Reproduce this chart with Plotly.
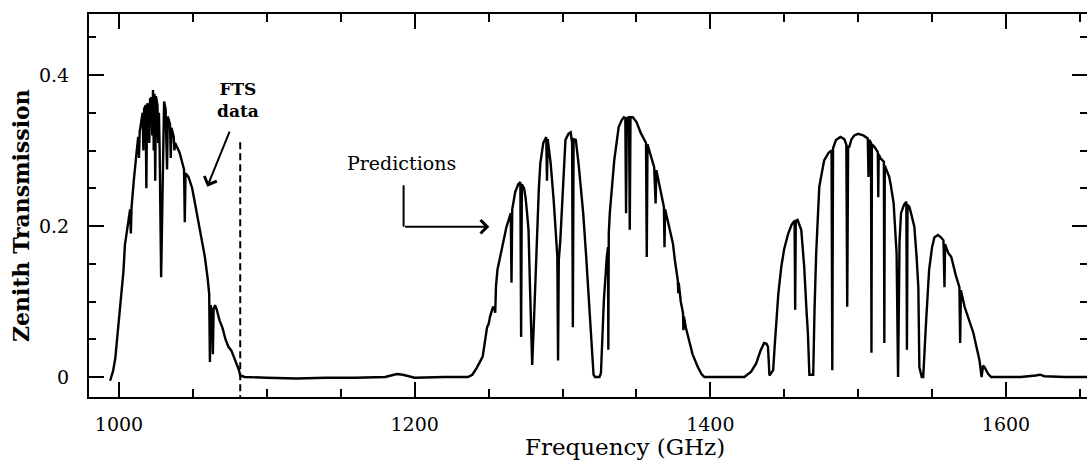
import plotly.graph_objects as go

# Frequency (GHz) and zenith transmission
freq = [
    994, 996, 997.5, 999, 1001, 1003, 1004, 1005, 1006, 1007.5, 1008, 1008.5, 1010, 1011, 1012, 1013,
    1013.5, 1014, 1015, 1016, 1016.5, 1017, 1018, 1018.5, 1019, 1020, 1020.5, 1021, 1022, 1022.5, 1023,
    1023.5, 1024, 1024.5, 1025, 1026, 1026.5, 1027, 1027.5, 1028.5, 1029.5, 1030.5, 1031.5, 1032.5, 1033,
    1034.5, 1035, 1035.5, 1037, 1037.5, 1038, 1040, 1041, 1044, 1044.5, 1045, 1047, 1049.5, 1052, 1054,
    1056, 1058, 1060, 1061, 1061.5, 1062, 1063, 1063.5, 1064, 1065, 1066, 1068, 1070, 1072, 1074, 1076,
    1078, 1080, 1081, 1082, 1085, 1100, 1120, 1140, 1160, 1180, 1188, 1192, 1200, 1220, 1236,
    1239, 1242, 1246, 1249, 1250, 1251, 1253, 1254, 1254.5, 1255, 1256, 1258, 1260, 1262, 1265, 1265.5,
    1266, 1268, 1270, 1271.5, 1272, 1272.5, 1274, 1275, 1276, 1277, 1278, 1279.5, 1281, 1282, 1284, 1285,
    1287, 1289, 1289.5, 1290, 1292, 1294, 1295.5, 1296.5, 1297, 1297.5, 1298.5, 1300, 1301, 1302, 1304,
    1305.5, 1306.5, 1307, 1307.5, 1309, 1311, 1314, 1316, 1317, 1319, 1320, 1321, 1322, 1325,
    1326, 1327, 1328, 1330, 1330.8, 1331, 1331.3, 1332, 1335, 1338, 1340, 1341.5, 1342.5, 1343, 1343.5,
    1345, 1345.5, 1346, 1347.5, 1350, 1353, 1356.5, 1357, 1357.5, 1360, 1362, 1363, 1363.5, 1366, 1368.6,
    1369, 1369.4, 1372, 1374.7, 1376, 1378, 1378.3, 1378.6, 1380, 1381.5, 1381.8, 1382.1, 1383.5, 1385.6,
    1388, 1391.6, 1394, 1396, 1410, 1423,
    1427.6, 1431, 1434, 1436.4, 1438, 1439, 1440, 1441, 1442.5, 1443.5, 1444.5, 1446, 1448, 1450, 1452.7,
    1455, 1457, 1457.4, 1457.8, 1459, 1461.5, 1463.5, 1465, 1466, 1467, 1469.6,
    1470.5, 1471.6, 1473.7, 1477, 1480, 1482, 1482.5, 1483, 1485, 1488, 1490.6, 1492, 1492.6, 1493.2,
    1494, 1495.5, 1497.4, 1500, 1503.5, 1505, 1506.5, 1507, 1507.5, 1508.7, 1509, 1509.3, 1511, 1513.3,
    1513.6, 1513.9, 1515, 1517.4, 1517.7, 1518, 1521, 1522, 1524, 1525.5, 1526, 1527, 1528, 1529, 1531,
    1532.6, 1533, 1533.4, 1534.7, 1536, 1538, 1539.5, 1540.7, 1541.4, 1543, 1544,
    1545, 1546, 1548, 1550, 1551.6, 1554, 1556, 1557.7, 1558.4, 1558.8, 1561, 1563, 1566, 1568.5, 1569,
    1569.5, 1572, 1575, 1578, 1580, 1582, 1583.5, 1584.5, 1585.5, 1588, 1590, 1610, 1620, 1623, 1626,
    1640, 1655,
]
trans = [
    -0.005, 0.008, 0.025, 0.055, 0.098, 0.14, 0.175, 0.19, 0.205, 0.222, 0.19, 0.225, 0.26, 0.285, 0.30, 0.318,
    0.29, 0.325, 0.34, 0.35, 0.30, 0.355, 0.36, 0.25, 0.362, 0.36, 0.31, 0.368, 0.37, 0.32, 0.38,
    0.30, 0.375, 0.26, 0.372, 0.36, 0.31, 0.35, 0.30, 0.132, 0.25, 0.365, 0.355, 0.275, 0.345,
    0.335, 0.29, 0.33, 0.318, 0.30, 0.31, 0.30, 0.297, 0.275, 0.205, 0.27, 0.265, 0.25, 0.225, 0.205,
    0.185, 0.16, 0.13, 0.11, 0.02, 0.095, 0.085, 0.03, 0.09, 0.095, 0.09, 0.075, 0.065, 0.05, 0.04, 0.035,
    0.025, 0.015, 0.01, 0.002, 0.0, -0.001, -0.002, -0.001, -0.001, 0.0, 0.004, 0.003, -0.001, 0.0, 0.0,
    0.003, 0.012, 0.027, 0.066, 0.07, 0.08, 0.093, 0.09, 0.085, 0.12, 0.142, 0.16, 0.181, 0.198, 0.217, 0.125,
    0.222, 0.245, 0.255, 0.258, 0.053, 0.255, 0.25, 0.238, 0.218, 0.195, 0.12, 0.016, 0.09, 0.151, 0.25, 0.283,
    0.31, 0.318, 0.26, 0.315, 0.283, 0.235, 0.195, 0.16, 0.022, 0.155, 0.18, 0.238, 0.28, 0.314, 0.322,
    0.324, 0.31, 0.066, 0.315, 0.314, 0.28, 0.217, 0.16, 0.128, 0.062, 0.025, 0.003, 0.0, 0.0,
    0.005, 0.058, 0.102, 0.16, 0.172, 0.036, 0.19, 0.217, 0.287, 0.331, 0.34, 0.344, 0.343, 0.217, 0.343,
    0.344, 0.195, 0.344, 0.344, 0.338, 0.323, 0.31, 0.159, 0.308, 0.29, 0.278, 0.23, 0.274, 0.25, 0.225,
    0.172, 0.222, 0.2, 0.177, 0.155, 0.128, 0.111, 0.125, 0.1, 0.085, 0.062, 0.08, 0.065, 0.049,
    0.03, 0.013, 0.004, 0.0, 0.0, 0.0,
    0.007, 0.018, 0.035, 0.045, 0.044, 0.04, 0.002, 0.005, 0.009, 0.04, 0.075, 0.11, 0.146, 0.17, 0.19,
    0.202, 0.207, 0.089, 0.207, 0.208, 0.195, 0.146, 0.09, 0.058, 0.003, 0.003,
    0.09, 0.164, 0.252, 0.287, 0.297, 0.30, 0.009, 0.303, 0.314, 0.318, 0.315, 0.308, 0.093, 0.305,
    0.305, 0.315, 0.32, 0.322, 0.32, 0.318, 0.316, 0.265, 0.314, 0.31, 0.032, 0.308, 0.305, 0.298,
    0.238, 0.295, 0.29, 0.285, 0.045, 0.28, 0.265, 0.255, 0.23, 0.18, 0.164, 0.0, 0.18, 0.217, 0.228,
    0.232, 0.036, 0.228, 0.225, 0.215, 0.199, 0.16, 0.119, 0.013, 0.0, 0.0,
    0.03, 0.075, 0.142, 0.172, 0.185, 0.188, 0.185, 0.181, 0.119, 0.176, 0.164, 0.159, 0.135, 0.119, 0.045,
    0.115, 0.093, 0.075, 0.058, 0.04, 0.023, 0.0, 0.015, 0.013, 0.004, 0.0, 0.0, 0.002, 0.003, 0.001,
    0.0, 0.0,
]

x_tickvals = [1000, 1200, 1400, 1600]
x_ticktext = ["1000", "1200", "1400", "1600"]
y_tickvals = [0, 0.2, 0.4]
y_ticktext = ["0", "0.2", "0.4"]

fts_edge = 1082          # end of FTS data (dashed marker)
fts_marker_top = 0.311

FONT = "DejaVu Serif"

fig = go.Figure()
fig.add_trace(go.Scatter(x=freq, y=trans, mode="lines",
                         line=dict(color="black", width=2.4), showlegend=False,
                         hoverinfo="skip"))

# dashed vertical marker at the end of the FTS data
fig.add_shape(type="line", xref="x", yref="y", x0=fts_edge, x1=fts_edge,
              y0=fts_marker_top, y1=-0.0265,
              line=dict(color="black", width=2, dash="7px,4px"))

# elbow part of the "Predictions" arrow
fig.add_shape(type="line", xref="x", yref="y", x0=1192.5, x1=1192.5, y0=0.254, y1=0.199,
              line=dict(color="black", width=2))

fig.add_annotation(x=1250.5, y=0.199, ax=1192.5, ay=0.199, xref="x", yref="y",
                   axref="x", ayref="y", text="", showarrow=True,
                   arrowhead=4, arrowsize=1.3, arrowwidth=2, arrowcolor="black")
fig.add_annotation(x=1191.4, y=0.283, xref="x", yref="y", text="Predictions",
                   xanchor="center", yanchor="middle",
                   showarrow=False, font=dict(family=FONT, size=19, color="black"))

fig.add_annotation(x=1059.7, y=0.252, ax=1075.2, ay=0.327, xref="x", yref="y",
                   axref="x", ayref="y", text="", showarrow=True,
                   arrowhead=4, arrowsize=1.3, arrowwidth=2, arrowcolor="black")
fig.add_annotation(x=1080.5, y=0.367, xref="x", yref="y", text="<b>FTS<br>data</b>",
                   xanchor="center", yanchor="middle",
                   showarrow=False, font=dict(family=FONT, size=17, color="black"),
                   align="center")

W, H = 1087, 464
L, R, T, B = 89, 0, 14, 67
pw, ph = W - L - R, H - T - B

# axis titles placed at pixel positions
fig.add_annotation(x=(625 - L) / pw, y=(H - B - 447) / ph, xref="paper", yref="paper",
                   xanchor="center", yanchor="middle", text="Frequency (GHz)",
                   showarrow=False, font=dict(family=FONT, size=23, color="black"))
fig.add_annotation(x=(21 - L) / pw, y=(H - B - 216) / ph, xref="paper", yref="paper",
                   xanchor="center", yanchor="middle", text="<b>Zenith Transmission</b>",
                   textangle=-90, showarrow=False, font=dict(family=FONT, size=22, color="black"))

axis_common = dict(showline=True, linecolor="black", linewidth=2, mirror="ticks",
                   ticks="inside", ticklen=15, tickwidth=2, tickcolor="black",
                   showgrid=False, zeroline=False,
                   tickfont=dict(family=FONT, size=19, color="black"))

fig.update_xaxes(range=[979.7, 1654.8], tickvals=x_tickvals, ticktext=x_ticktext,
                 minor=dict(dtick=50, ticks="inside", ticklen=8, tickwidth=2, tickcolor="black",
                            tick0=1000, showgrid=False),
                 ticklabelstandoff=9, **axis_common)
fig.update_yaxes(range=[-0.0265, 0.4808], tickvals=y_tickvals, ticktext=y_ticktext,
                 minor=dict(dtick=0.05, ticks="inside", ticklen=7, tickwidth=2, tickcolor="black",
                            tick0=0, showgrid=False),
                 ticklabelstandoff=14, **axis_common)

fig.update_layout(width=W, height=H, margin=dict(l=L, r=R, t=T, b=B, autoexpand=False),
                  paper_bgcolor="white", plot_bgcolor="white")

fig.write_html("out.html")
